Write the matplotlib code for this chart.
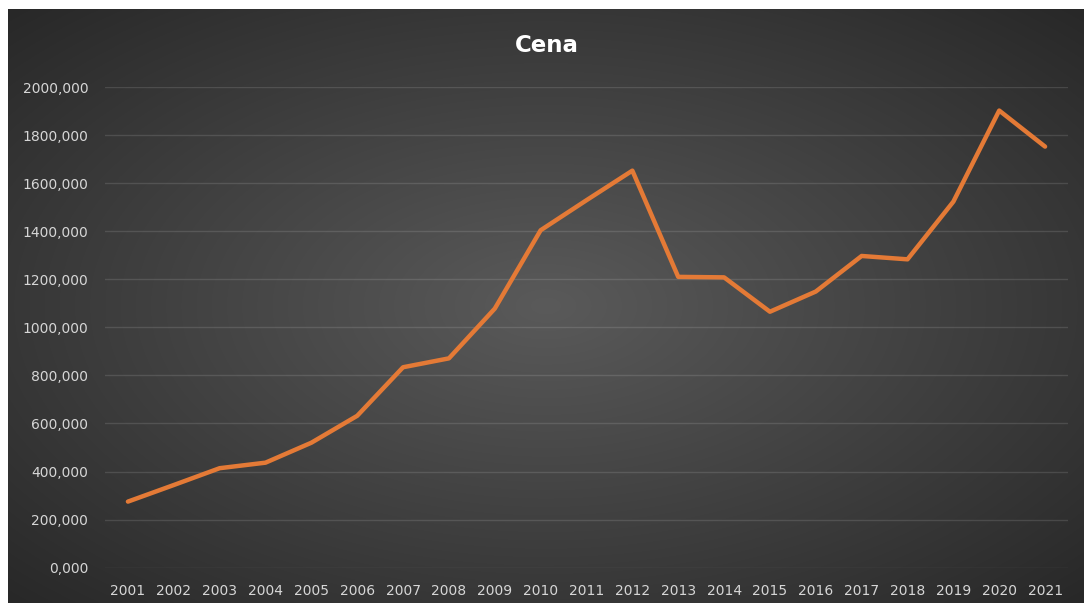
import matplotlib.pyplot as plt
import numpy as np

years = [str(y) for y in range(2001, 2022)]
prices = [275, 344, 414, 437, 520, 632, 834, 871, 1078, 1404,
          1529, 1652, 1210, 1208, 1065, 1149, 1297, 1283, 1523, 1902, 1752]
y_ticks = [0, 200, 400, 600, 800, 1000, 1200, 1400, 1600, 1800, 2000]
title = "Cena"


def draw_background(fig):
    """Radial dark-gray gradient like the Excel chart style"""
    bg = fig.add_axes([8 / 1084, 0, 1 - 8 / 1084, 594 / 603])
    bg.set_axis_off()
    h, w = 300, 540
    yy, xx = np.mgrid[0:h, 0:w]
    dx = (xx / (w - 1) - 0.5) / 0.5
    dy = (yy / (h - 1) - 0.5) / 0.5
    r = np.clip(np.sqrt(dx ** 2 + dy ** 2) / np.sqrt(2), 0, 1)
    center = np.array([0x5a, 0x5a, 0x5a]) / 255
    edge = np.array([0x28, 0x28, 0x28]) / 255
    img = center + (edge - center) * r[..., None]
    bg.imshow(img, aspect="auto", extent=[0, 1, 0, 1], interpolation="bilinear")
    bg.set_zorder(0)


def plot_price():
    fig = plt.figure(figsize=(10.84, 6.03), dpi=100, facecolor="white")
    draw_background(fig)

    ax = fig.add_axes([105 / 1084, 35.3 / 603, 963 / 1084, 480.7 / 603])
    ax.set_zorder(1)
    ax.patch.set_alpha(0)
    x = np.arange(len(years))
    ax.plot(x, prices, color="#E47A36", lw=3.2, solid_joinstyle="round",
            solid_capstyle="round", zorder=3)

    ax.set_xlim(-0.5, len(years) - 0.5)
    ax.set_ylim(0, 2000)
    ax.set_yticks(y_ticks)
    ax.set_yticklabels([f"{v},000" for v in y_ticks])
    ax.set_xticks(x)
    ax.set_xticklabels(years)
    # faint gridlines, only slightly lighter than the background
    ax.grid(axis="y", color="white", alpha=0.12, lw=1)
    ax.set_axisbelow(True)
    for s in ax.spines.values():
        s.set_visible(False)
    ax.tick_params(axis="both", length=0, labelsize=10, colors="#d6d6d6")
    ax.tick_params(axis="y", pad=12)
    ax.tick_params(axis="x", pad=12)

    fig.text(547 / 1084, 1 - 45 / 603, title, color="white", fontsize=16.5,
             fontweight="bold", ha="center", va="center")
    fig.savefig("out.png", dpi=100, facecolor=fig.get_facecolor())


def main():
    plot_price()


if __name__ == "__main__":
    main()
